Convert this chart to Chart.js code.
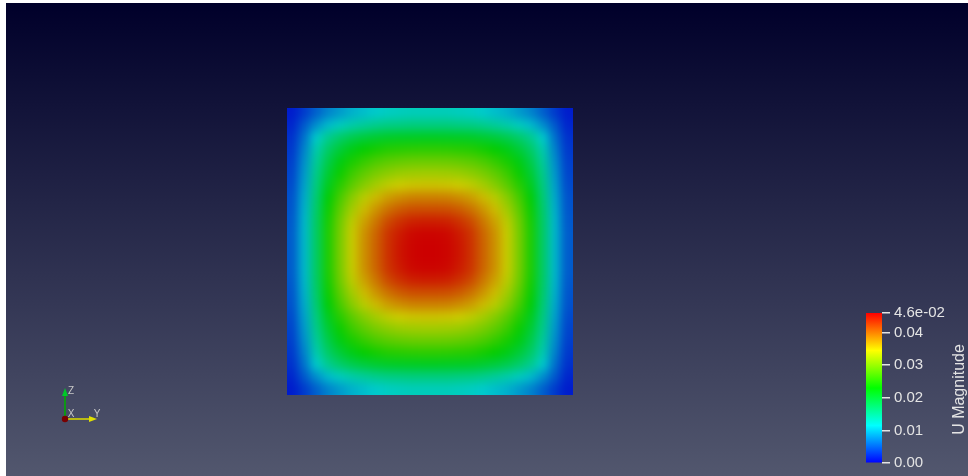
<!DOCTYPE html>
<html><head><meta charset="utf-8">
<script src="https://cdn.jsdelivr.net/npm/chart.js@4.4.1/dist/chart.umd.min.js"></script>
<style>
html,body{margin:0;padding:0;background:#fff;width:968px;height:476px;overflow:hidden;}
#main{position:absolute;left:6px;top:3px;width:962px;height:473px;}
#cbar{position:absolute;left:860px;top:300px;width:108px;height:176px;}
canvas{display:block;}
</style></head><body>
<div id="main"><canvas id="c1" width="962" height="473"></canvas></div>
<div id="cbar"><canvas id="c2" width="108" height="176"></canvas></div>
<script>
// ---- data ----
const fieldName = 'U Magnitude';
const gridX = [0.0208,0.0625,0.1042,0.1458,0.1875,0.2292,0.2708,0.3125,0.3542,0.3958,0.4375,0.4792,0.5208,0.5625,0.6042,0.6458,0.6875,0.7292,0.7708,0.8125,0.8542,0.8958,0.9375,0.9792];
const gridY = [0.0208,0.0625,0.1042,0.1458,0.1875,0.2292,0.2708,0.3125,0.3542,0.3958,0.4375,0.4792,0.5208,0.5625,0.6042,0.6458,0.6875,0.7292,0.7708,0.8125,0.8542,0.8958,0.9375,0.9792];
// U magnitude per cell, rows from top to bottom
const uMagnitude = [
[0.0016,0.0033,0.0054,0.0074,0.0087,0.0099,0.0107,0.0114,0.0120,0.0123,0.0125,0.0125,0.0125,0.0125,0.0123,0.0120,0.0114,0.0107,0.0099,0.0087,0.0074,0.0054,0.0033,0.0016],
[0.0021,0.0051,0.0081,0.0106,0.0123,0.0135,0.0144,0.0151,0.0156,0.0158,0.0160,0.0160,0.0160,0.0160,0.0158,0.0156,0.0151,0.0144,0.0135,0.0123,0.0106,0.0081,0.0051,0.0021],
[0.0027,0.0064,0.0115,0.0150,0.0171,0.0186,0.0196,0.0203,0.0208,0.0210,0.0211,0.0212,0.0212,0.0211,0.0210,0.0208,0.0203,0.0196,0.0186,0.0171,0.0150,0.0115,0.0064,0.0027],
[0.0031,0.0074,0.0132,0.0173,0.0199,0.0218,0.0232,0.0241,0.0249,0.0252,0.0254,0.0255,0.0255,0.0254,0.0252,0.0249,0.0241,0.0232,0.0218,0.0199,0.0173,0.0132,0.0074,0.0031],
[0.0035,0.0081,0.0143,0.0189,0.0220,0.0243,0.0259,0.0272,0.0281,0.0286,0.0289,0.0290,0.0290,0.0289,0.0286,0.0281,0.0272,0.0259,0.0243,0.0220,0.0189,0.0143,0.0081,0.0035],
[0.0038,0.0087,0.0152,0.0202,0.0236,0.0263,0.0283,0.0298,0.0309,0.0316,0.0319,0.0320,0.0320,0.0319,0.0316,0.0309,0.0298,0.0283,0.0263,0.0236,0.0202,0.0152,0.0087,0.0038],
[0.0041,0.0092,0.0159,0.0214,0.0252,0.0282,0.0305,0.0323,0.0337,0.0345,0.0349,0.0350,0.0350,0.0349,0.0345,0.0337,0.0323,0.0305,0.0282,0.0252,0.0214,0.0159,0.0092,0.0041],
[0.0045,0.0097,0.0166,0.0227,0.0270,0.0306,0.0333,0.0355,0.0371,0.0380,0.0386,0.0387,0.0387,0.0386,0.0380,0.0371,0.0355,0.0333,0.0306,0.0270,0.0227,0.0166,0.0097,0.0045],
[0.0047,0.0101,0.0171,0.0236,0.0283,0.0322,0.0354,0.0376,0.0396,0.0408,0.0415,0.0416,0.0416,0.0415,0.0408,0.0396,0.0376,0.0354,0.0322,0.0283,0.0236,0.0171,0.0101,0.0047],
[0.0049,0.0104,0.0174,0.0242,0.0293,0.0336,0.0368,0.0393,0.0418,0.0432,0.0441,0.0443,0.0443,0.0441,0.0432,0.0418,0.0393,0.0368,0.0336,0.0293,0.0242,0.0174,0.0104,0.0049],
[0.0051,0.0105,0.0175,0.0245,0.0297,0.0342,0.0377,0.0403,0.0430,0.0445,0.0455,0.0457,0.0457,0.0455,0.0445,0.0430,0.0403,0.0377,0.0342,0.0297,0.0245,0.0175,0.0105,0.0051],
[0.0051,0.0105,0.0175,0.0245,0.0298,0.0343,0.0378,0.0405,0.0432,0.0448,0.0457,0.0460,0.0460,0.0457,0.0448,0.0432,0.0405,0.0378,0.0343,0.0298,0.0245,0.0175,0.0105,0.0051],
[0.0051,0.0105,0.0175,0.0245,0.0298,0.0343,0.0378,0.0405,0.0432,0.0448,0.0457,0.0460,0.0460,0.0457,0.0448,0.0432,0.0405,0.0378,0.0343,0.0298,0.0245,0.0175,0.0105,0.0051],
[0.0051,0.0105,0.0175,0.0245,0.0297,0.0342,0.0377,0.0403,0.0430,0.0445,0.0455,0.0457,0.0457,0.0455,0.0445,0.0430,0.0403,0.0377,0.0342,0.0297,0.0245,0.0175,0.0105,0.0051],
[0.0049,0.0104,0.0174,0.0242,0.0293,0.0336,0.0368,0.0393,0.0418,0.0432,0.0441,0.0443,0.0443,0.0441,0.0432,0.0418,0.0393,0.0368,0.0336,0.0293,0.0242,0.0174,0.0104,0.0049],
[0.0047,0.0101,0.0171,0.0236,0.0283,0.0322,0.0354,0.0376,0.0396,0.0408,0.0415,0.0416,0.0416,0.0415,0.0408,0.0396,0.0376,0.0354,0.0322,0.0283,0.0236,0.0171,0.0101,0.0047],
[0.0045,0.0097,0.0166,0.0227,0.0270,0.0306,0.0333,0.0355,0.0371,0.0380,0.0386,0.0387,0.0387,0.0386,0.0380,0.0371,0.0355,0.0333,0.0306,0.0270,0.0227,0.0166,0.0097,0.0045],
[0.0041,0.0092,0.0159,0.0214,0.0252,0.0282,0.0305,0.0323,0.0337,0.0345,0.0349,0.0350,0.0350,0.0349,0.0345,0.0337,0.0323,0.0305,0.0282,0.0252,0.0214,0.0159,0.0092,0.0041],
[0.0038,0.0087,0.0152,0.0202,0.0236,0.0263,0.0283,0.0298,0.0309,0.0316,0.0319,0.0320,0.0320,0.0319,0.0316,0.0309,0.0298,0.0283,0.0263,0.0236,0.0202,0.0152,0.0087,0.0038],
[0.0035,0.0081,0.0143,0.0189,0.0220,0.0243,0.0259,0.0272,0.0281,0.0286,0.0289,0.0290,0.0290,0.0289,0.0286,0.0281,0.0272,0.0259,0.0243,0.0220,0.0189,0.0143,0.0081,0.0035],
[0.0031,0.0074,0.0132,0.0173,0.0199,0.0218,0.0232,0.0241,0.0249,0.0252,0.0254,0.0255,0.0255,0.0254,0.0252,0.0249,0.0241,0.0232,0.0218,0.0199,0.0173,0.0132,0.0074,0.0031],
[0.0027,0.0064,0.0115,0.0150,0.0171,0.0186,0.0196,0.0203,0.0208,0.0210,0.0211,0.0212,0.0212,0.0211,0.0210,0.0208,0.0203,0.0196,0.0186,0.0171,0.0150,0.0115,0.0064,0.0027],
[0.0021,0.0051,0.0081,0.0106,0.0123,0.0135,0.0144,0.0151,0.0156,0.0158,0.0160,0.0160,0.0160,0.0160,0.0158,0.0156,0.0151,0.0144,0.0135,0.0123,0.0106,0.0081,0.0051,0.0021],
[0.0016,0.0033,0.0054,0.0074,0.0087,0.0099,0.0107,0.0114,0.0120,0.0123,0.0125,0.0125,0.0125,0.0125,0.0123,0.0120,0.0114,0.0107,0.0099,0.0087,0.0074,0.0054,0.0033,0.0016]
];
const colorbarMin = 0;
const colorbarMax = 0.046;
const colorbarTicks = [0, 0.01, 0.02, 0.03, 0.04, 0.046];
const colorbarTickLabels = ['0.00', '0.01', '0.02', '0.03', '0.04', '4.6e-02'];

// ---- colour map (jet-like) ----
const jetStops = [[0,[0,0,255]],[0.25,[0,255,255]],[0.5,[0,255,0]],[0.75,[255,255,0]],[1,[255,0,0]]];
function jet(v, shade) {
  let t = (v - colorbarMin) / (colorbarMax - colorbarMin);
  t = Math.max(0, Math.min(1, t));
  for (let k = 1; k < jetStops.length; k++) {
    if (t <= jetStops[k][0]) {
      const [t0, c0] = jetStops[k-1], [t1, c1] = jetStops[k];
      const f = (t - t0) / (t1 - t0);
      const c = c0.map((a, n) => Math.round((a + (c1[n] - a) * f) * shade));
      return `rgb(${c[0]},${c[1]},${c[2]})`;
    }
  }
  return 'rgb(255,0,0)';
}

// ---- background, smooth shading and triad plugins ----
const bgPlugin = {
  id: 'bg',
  beforeDraw(chart) {
    const { ctx, width, height } = chart;
    const g = ctx.createLinearGradient(0, 0, 0, height);
    g.addColorStop(0, 'rgb(0,0,42)');
    g.addColorStop(1, 'rgb(82,87,110)');
    ctx.save(); ctx.fillStyle = g; ctx.fillRect(0, 0, width, height); ctx.restore();
  }
};
// Gouraud-like look: soften the cell edges of what the dataset drew
const smoothPlugin = {
  id: 'smooth',
  afterDatasetsDraw(chart) {
    const a = chart.chartArea, ctx = chart.ctx, src = chart.canvas;
    const x = Math.round(a.left), y = Math.round(a.top);
    const w = Math.round(a.right - a.left), h = Math.round(a.bottom - a.top);
    const p = 14;
    const off = document.createElement('canvas');
    off.width = w + 2 * p; off.height = h + 2 * p;
    const o = off.getContext('2d');
    o.drawImage(src, x, y, w, h, p, p, w, h);
    o.drawImage(src, x, y, 1, h, 0, p, p, h);
    o.drawImage(src, x + w - 1, y, 1, h, p + w, p, p, h);
    o.drawImage(off, 0, p, w + 2 * p, 1, 0, 0, w + 2 * p, p);
    o.drawImage(off, 0, p + h - 1, w + 2 * p, 1, 0, p + h, w + 2 * p, p);
    ctx.save();
    ctx.beginPath(); ctx.rect(x, y, w, h); ctx.clip();
    ctx.filter = 'blur(5px)';
    ctx.drawImage(off, x - p, y - p);
    ctx.restore();
  }
};
const triadPlugin = {
  id: 'triad',
  afterDraw(chart) {
    const ctx = chart.ctx;
    const ox = 59, oy = 416;
    ctx.save();
    ctx.lineWidth = 1.6;
    ctx.strokeStyle = 'rgb(0,170,0)';
    ctx.beginPath(); ctx.moveTo(ox, oy); ctx.lineTo(ox, oy - 24); ctx.stroke();
    ctx.fillStyle = 'rgb(0,200,40)';
    ctx.beginPath(); ctx.moveTo(ox, oy - 31); ctx.lineTo(ox - 3, oy - 23); ctx.lineTo(ox + 3, oy - 23); ctx.closePath(); ctx.fill();
    ctx.strokeStyle = 'rgb(215,215,0)';
    ctx.beginPath(); ctx.moveTo(ox, oy); ctx.lineTo(ox + 25, oy); ctx.stroke();
    ctx.fillStyle = 'rgb(225,225,0)';
    ctx.beginPath(); ctx.moveTo(ox + 32, oy); ctx.lineTo(ox + 24, oy - 3); ctx.lineTo(ox + 24, oy + 3); ctx.closePath(); ctx.fill();
    ctx.fillStyle = 'rgb(120,0,0)';
    ctx.beginPath(); ctx.arc(ox, oy, 3.2, 0, Math.PI * 2); ctx.fill();
    ctx.fillStyle = 'rgb(200,200,200)';
    ctx.font = '10px "Liberation Sans", Arial, sans-serif';
    ctx.textBaseline = 'middle'; ctx.textAlign = 'center';
    ctx.fillText('Z', ox + 6, oy - 28);
    ctx.fillText('X', ox + 6, oy - 5);
    ctx.fillText('Y', ox + 32, oy - 5);
    ctx.restore();
  }
};

// ---- main field chart ----
const cells = [];
uMagnitude.forEach((row, j) => row.forEach((v, i) => cells.push({ x: gridX[i], y: gridY[j], v })));
const cellStep = gridX[1] - gridX[0];

new Chart(document.getElementById('c1'), {
  type: 'scatter',
  data: { datasets: [{
    data: cells,
    pointStyle: 'rect',
    borderWidth: 0,
    clip: 0,
    backgroundColor: (c) => jet(c.raw ? c.raw.v : 0, 0.8),
    pointRadius: (c) => {
      const sx = c.chart.scales.x, sy = c.chart.scales.y;
      if (!sx || !sy) return 6;
      const w = Math.abs(sx.getPixelForValue(cellStep) - sx.getPixelForValue(0));
      const h = Math.abs(sy.getPixelForValue(cellStep) - sy.getPixelForValue(0));
      return (Math.max(w, h) + 1.2) / Math.SQRT2;
    }
  }]},
  options: {
    responsive: false, animation: false, events: [],
    layout: { padding: { left: 281, top: 105, right: 395, bottom: 81 } },
    plugins: { legend: { display: false }, tooltip: { enabled: false } },
    scales: {
      x: { type: 'linear', display: false, min: 0, max: 1 },
      y: { type: 'linear', display: false, min: 0, max: 1, reverse: true }
    }
  },
  plugins: [bgPlugin, smoothPlugin, triadPlugin]
});

// ---- colour bar chart ----
const cbarTitlePlugin = {
  id: 'cbarTitle',
  afterDraw(chart) {
    const ctx = chart.ctx;
    ctx.save();
    ctx.translate(100, 89.5);
    ctx.rotate(-Math.PI / 2);
    ctx.fillStyle = '#e4e4e4';
    ctx.font = '16px "Liberation Sans", Arial, sans-serif';
    ctx.textAlign = 'center'; ctx.textBaseline = 'middle';
    ctx.fillText(fieldName, 0, 0);
    ctx.restore();
  }
};
new Chart(document.getElementById('c2'), {
  type: 'bar',
  data: { labels: [fieldName], datasets: [{
    data: [colorbarMax],
    base: colorbarMin,
    barPercentage: 1, categoryPercentage: 1, borderWidth: 0,
    backgroundColor: (c) => {
      const area = c.chart.chartArea;
      if (!area) return 'red';
      const g = c.chart.ctx.createLinearGradient(0, area.bottom, 0, area.top);
      jetStops.forEach(([t]) => g.addColorStop(t, jet(colorbarMin + t * (colorbarMax - colorbarMin), 1)));
      return g;
    }
  }]},
  options: {
    responsive: false, animation: false, events: [],
    layout: { padding: { left: 6, top: 10.7, bottom: 8.7, right: 0 } },
    plugins: { legend: { display: false }, tooltip: { enabled: false } },
    scales: {
      x: { display: false },
      y: {
        position: 'right', min: colorbarMin, max: colorbarMax,
        afterBuildTicks: (s) => { s.ticks = colorbarTicks.map(v => ({ value: v })); },
        afterFit: (s) => { s.width = 86; },
        ticks: { autoSkip: false, padding: 4, color: '#e4e4e4',
          font: { family: '"Liberation Sans", Arial, sans-serif', size: 15 },
          callback: (v, i) => colorbarTickLabels[i] },
        grid: { drawOnChartArea: false, drawTicks: true, tickLength: 8, color: '#e4e4e4', lineWidth: 1.5 },
        border: { display: false }
      }
    }
  },
  plugins: [cbarTitlePlugin]
});
</script>
</body></html>
